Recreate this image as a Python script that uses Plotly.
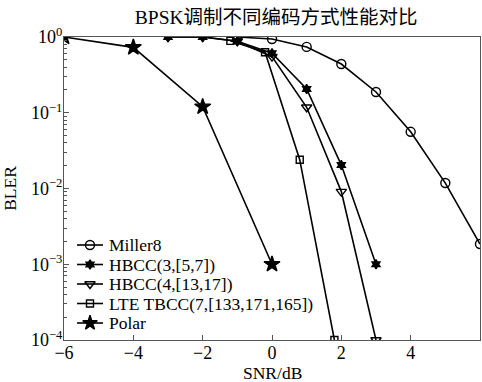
import plotly.graph_objects as go

miller_x = [-1, 0, 1, 2, 3, 4, 5, 6]
miller_y = [1.0, 0.94, 0.74, 0.44, 0.188, 0.056, 0.0118, 0.00185]

hbcc3_x = [-3, -2, -1, 0, 1, 2, 3]
hbcc3_y = [1.0, 1.0, 0.88, 0.61, 0.206, 0.0204, 0.001]

hbcc4_x = [-3, -2, -1, 0, 1, 2, 3]
hbcc4_y = [1.0, 1.0, 0.88, 0.55, 0.118, 0.0091, 0.0001]

lte_x = [-1.2, -0.2, 0.8, 1.8]
lte_y = [0.89, 0.63, 0.024, 0.0001]

polar_x = [-6, -4, -2, 0]
polar_y = [1.0, 0.73, 0.12, 0.001]

x_ticks = [-6, -4, -2, 0, 2, 4, 6]
x_ticktext = ["−6", "−4", "−2", "0", "2", "4", "6"]
y_tickvals = [1, 0.1, 0.01, 0.001, 0.0001]
y_ticktext = ["10<sup>0</sup>", "10<sup>−1</sup>", "10<sup>−2</sup>", "10<sup>−3</sup>", "10<sup>−4</sup>"]

names = ["Miller8", "HBCC(3,[5,7])", "HBCC(4,[13,17])", "LTE TBCC(7,[133,171,165])", "Polar"]
xs_all = [miller_x, hbcc3_x, hbcc4_x, lte_x, polar_x]
ys_all = [miller_y, hbcc3_y, hbcc4_y, lte_y, polar_y]
symbols = ["circle-open", "hexagram", "triangle-down-open", "square-open", "star"]
sizes = [9, 7, 9, 7, 12]

FONT = "Liberation Serif"

fig = go.Figure()
for name, xs, ys, sym, sz in zip(names, xs_all, ys_all, symbols, sizes):
    fig.add_trace(go.Scatter(
        x=xs, y=ys, name=name, mode="lines+markers", showlegend=False,
        line=dict(color="black", width=1.6),
        marker=dict(symbol=sym, size=sz, color="black",
                    line=dict(color="black", width=1.4)),
    ))

# custom legend drawn on a hidden overlay axis measured in pixels
leg_rows = [245, 264.5, 284, 303.5, 323]
for name, sym, sz, ry in zip(names, symbols, sizes, leg_rows):
    fig.add_trace(go.Scatter(
        x=[77, 103], y=[ry, ry], xaxis="x2", yaxis="y2", mode="lines",
        line=dict(color="black", width=1.6), showlegend=False, hoverinfo="skip"))
    fig.add_trace(go.Scatter(
        x=[90], y=[ry], xaxis="x2", yaxis="y2", mode="markers", showlegend=False,
        marker=dict(symbol=sym, size=min(sz, 11), color="black",
                    line=dict(color="black", width=1.4)), hoverinfo="skip"))
    fig.add_annotation(x=107, y=ry, xref="x2", yref="y2", text=name,
                       showarrow=False, xanchor="left", yanchor="middle",
                       font=dict(family=FONT, size=17.5, color="black"))

# x-axis title placed as an annotation below the tick labels
fig.add_annotation(x=0.5, y=-0.11, xref="paper", yref="paper", text="SNR/dB",
                   showarrow=False, xanchor="center", yanchor="middle",
                   font=dict(family=FONT, size=17.5, color="black"))

fig.update_layout(
    width=482, height=382,
    margin=dict(l=64, r=2, t=37, b=42, autoexpand=False),
    paper_bgcolor="white", plot_bgcolor="white",
    font=dict(family=FONT, size=17, color="black"),
    title=dict(text="BPSK调制不同编码方式性能对比", x=0.573, xanchor="center",
               y=0.955, yanchor="middle",
               font=dict(family="Liberation Serif, Noto Sans CJK SC", size=19.5)),
    showlegend=False,
    xaxis=dict(range=[-6, 6], tickvals=x_ticks, ticktext=x_ticktext,
               ticks="inside", ticklen=5, tickcolor="#555",
               showline=True, linecolor="#555", linewidth=1, mirror=True,
               showgrid=False, zeroline=False, ticklabelstandoff=-4,
               tickfont=dict(family=FONT, size=18)),
    yaxis=dict(type="log", range=[-4, 0], tickvals=y_tickvals, ticktext=y_ticktext,
               ticks="inside", ticklen=5, tickcolor="#555",
               minor=dict(ticks="inside", ticklen=3, tickcolor="#555", showgrid=False,
                          dtick="D1"),
               showline=True, linecolor="#555", linewidth=1, mirror=True,
               showgrid=False, zeroline=False, ticklabelstandoff=-3,
               tickfont=dict(family=FONT, size=18),
               title=dict(text="BLER", standoff=10, font=dict(family=FONT, size=17.5))),
    xaxis2=dict(overlaying="x", anchor="y2", range=[64, 480], visible=False),
    yaxis2=dict(overlaying="y", anchor="x2", range=[340, 37], visible=False),
)

fig.write_html("out.html", config={"displayModeBar": False},
               post_script="document.body.style.margin='0';")
